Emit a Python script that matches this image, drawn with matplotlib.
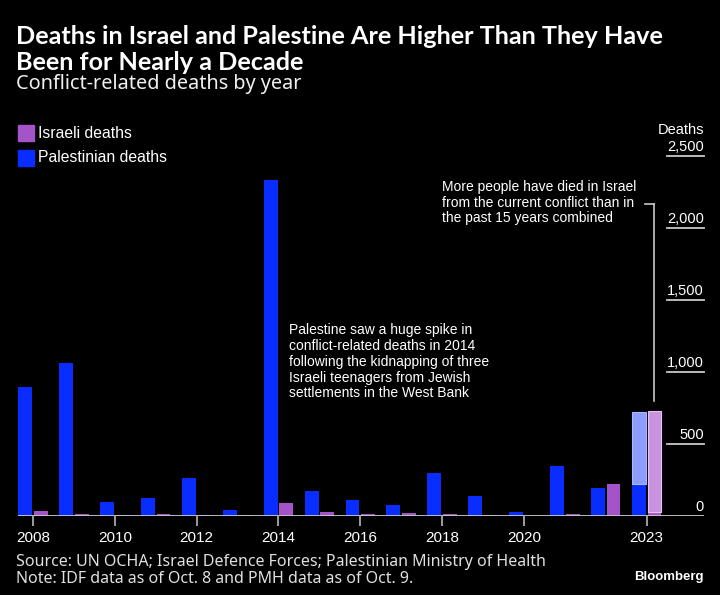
import matplotlib
matplotlib.use('Agg')
import matplotlib.pyplot as plt
import matplotlib.transforms as mtransforms
from matplotlib.patches import Rectangle

# ---------------- data ----------------
years = list(range(2008, 2024))
palestinian = [897, 1064, 95, 127, 261, 42, 2333, 176, 111, 78, 301, 139, 30, 347, 192, 222]
israeli = [35, 12, 9, 11, 7, 6, 88, 25, 13, 18, 14, 10, 3, 13, 220, 30]
# additional 2023 deaths from the current conflict (stacked, lighter)
palestinian_current_2023 = 500
israeli_current_2023 = 700
tick_years = [2008, 2010, 2012, 2014, 2016, 2018, 2020, 2023]
y_ticks = [0, 500, 1000, 1500, 2000, 2500]
y_tick_labels = ['0', '500', '1,000', '1,500', '2,000', '2,500']

BLUE = '#0a2dff'
PURPLE = '#a553c8'
LBLUE = '#8e9dfb'
LPURPLE = '#c994dd'
LINE = '#c8c8c8'

W, H = 720, 595
fig = plt.figure(figsize=(W / 100, H / 100), dpi=100, facecolor='black')

def fx(px):
    return px / W

def fy(py):
    return 1 - py / H

SANS = ['Liberation Sans', 'DejaVu Sans']
HEAD = ['Noto Sans', 'DejaVu Sans']
TITLE = ['Lato', 'DejaVu Sans']

# axes
ax = fig.add_axes([fx(18), fy(516), (704 - 18) / W, (516 - 155.7) / H])
ax.set_facecolor('black')
ax.set_xlim(2008 - 15 / 40.9, 2023 + 57.3 / 40.9)
ax.set_ylim(0, 2500)
for s in ax.spines.values():
    s.set_visible(False)

off, bw = 0.19, 0.34
px_ = [y - off for y in years]
ix_ = [y + off for y in years]
ax.bar(px_, palestinian, width=bw, color=BLUE, zorder=2)
ax.bar(ix_, israeli, width=bw, color=PURPLE, zorder=2)
ax.bar([years[-1] - off], [palestinian_current_2023], bottom=[palestinian[-1]],
       width=bw, color=LBLUE, edgecolor='#aab6fd', linewidth=0.8, zorder=2)
ax.bar([years[-1] + off], [israeli_current_2023], bottom=[israeli[-1]],
       width=bw, color=LPURPLE, edgecolor='#e6c6f0', linewidth=0.8, zorder=2)

ax.axhline(0, color=LINE, lw=1.3, zorder=3)

ax.set_xticks(tick_years)
ax.set_xticklabels([str(t) for t in tick_years], family=SANS, fontsize=11, color='white')
ax.tick_params(axis='x', direction='out', length=7, width=1.1, color=LINE, pad=4)
ax.set_yticks([])

blend = mtransforms.blended_transform_factory(ax.transAxes, ax.transData)
for v, lab in zip(y_ticks, y_tick_labels):
    ax.annotate(lab, xy=(1.0, v), xycoords=blend, xytext=(0, 1.5), textcoords='offset points',
                ha='right', va='bottom', color='white', fontsize=10.5, family=SANS,
                annotation_clip=False)
    if v > 0:
        ax.plot([0.946, 1.0], [v, v], transform=blend, color=LINE, lw=1.3, clip_on=False)

fig.text(fx(704), fy(130), 'Deaths', ha='right', va='center', color='white', fontsize=10.5, family=SANS)

# annotation: 2023 bracket
total_isr = israeli[-1] + israeli_current_2023
xb = years[-1] + off
ax.plot([xb, xb], [total_isr + 65, 2165], color=LINE, lw=1.2, clip_on=False, zorder=3)
ax.plot([xb - 0.22, xb], [2165, 2165], color=LINE, lw=1.2, clip_on=False, zorder=3)
fig.text(fx(442), fy(180), 'More people have died in Israel\nfrom the current conflict than in\nthe past 15 years combined',
         ha='left', va='top', color='white', fontsize=10, family=SANS, linespacing=1.15)

fig.text(fx(289), fy(323), 'Palestine saw a huge spike in\nconflict-related deaths in 2014\nfollowing the kidnapping of three\nIsraeli teenagers from Jewish\nsettlements in the West Bank',
         ha='left', va='top', color='white', fontsize=10, family=SANS, linespacing=1.17)

# legend
for (yc, col, lab) in [(133, PURPLE, 'Israeli deaths'), (158, BLUE, 'Palestinian deaths')]:
    fig.patches.append(Rectangle((fx(18), fy(yc + 8)), 16 / W, 16 / H, transform=fig.transFigure,
                                 color=col, figure=fig))
    fig.text(fx(38), fy(yc), lab, ha='left', va='center', color='white', fontsize=11.3, family=SANS)

# titles
fig.text(fx(16), fy(37), 'Deaths in Israel and Palestine Are Higher Than They Have', ha='left', va='center',
         color='white', fontsize=18.2, fontweight='bold', family=TITLE)
fig.text(fx(16), fy(63), 'Been for Nearly a Decade', ha='left', va='center',
         color='white', fontsize=18.2, fontweight='bold', family=TITLE)
fig.text(fx(16), fy(84), 'Conflict-related deaths by year', ha='left', va='center',
         color='#f0f0f0', fontsize=14.3, family=HEAD)

# footer
fig.text(fx(16), fy(562), 'Source: UN OCHA; Israel Defence Forces; Palestinian Ministry of Health', ha='left',
         va='center', color='#e0e0e0', fontsize=11.5, family=HEAD)
fig.text(fx(16), fy(579), 'Note: IDF data as of Oct. 8 and PMH data as of Oct. 9.', ha='left',
         va='center', color='#e0e0e0', fontsize=11.5, family=HEAD)
fig.text(fx(704), fy(577), 'Bloomberg', ha='right', va='center', color='white', fontsize=9.5,
         fontweight='bold', family=SANS)

fig.savefig('out.png', dpi=100, facecolor='black')
